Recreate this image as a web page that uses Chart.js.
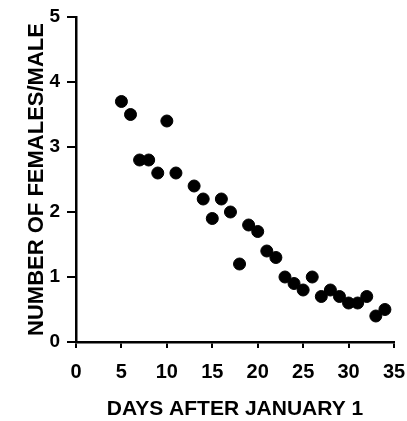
<!DOCTYPE html>
<html>
<head>
<meta charset="utf-8">
<script src="https://cdn.jsdelivr.net/npm/chart.js@4/dist/chart.umd.min.js"></script>
<style>
  html, body { margin: 0; padding: 0; background: #fff; }
  #wrap { width: 407px; height: 421px; }
</style>
</head>
<body>
<div id="wrap"><canvas id="femalesChart" width="407" height="421"></canvas></div>
<script>
const days = [5, 6, 7, 8, 9, 10, 11, 13, 14, 15, 16, 17, 18, 19, 20, 21, 22, 23, 24, 25, 26, 27, 28, 29, 30, 31, 32, 33, 34];
const femalesPerMale = [3.7, 3.5, 2.8, 2.8, 2.6, 3.4, 2.6, 2.4, 2.2, 1.9, 2.2, 2.0, 1.2, 1.8, 1.7, 1.4, 1.3, 1.0, 0.9, 0.8, 1.0, 0.7, 0.8, 0.7, 0.6, 0.6, 0.7, 0.4, 0.5];
const xTicks = [0, 5, 10, 15, 20, 25, 30, 35];
const yTicks = [0, 1, 2, 3, 4, 5];

const points = days.map((d, i) => ({ x: d, y: femalesPerMale[i] }));
const fontFamily = '"Liberation Sans", Arial, sans-serif';

function drawChart() {
    new Chart(document.getElementById('femalesChart').getContext('2d'), {
        type: 'scatter',
        data: {
            datasets: [{
                data: points,
                backgroundColor: '#000',
                borderColor: '#000',
                pointRadius: 6,
                pointHoverRadius: 6
            }]
        },
        options: {
            responsive: false,
            animation: false,
            layout: { padding: { top: 17, right: 13, left: 0, bottom: 0 } },
            plugins: { legend: { display: false }, tooltip: { enabled: false } },
            scales: {
                x: {
                    type: 'linear', min: 0, max: 35,
                    afterBuildTicks: s => { s.ticks = xTicks.map(v => ({ value: v })); },
                    // fixed axis box so the plot area lines up with the original
                    afterFit: s => { s.height = 79; s.paddingLeft = 0; s.paddingRight = 0; },
                    grid: { drawOnChartArea: false, color: '#000', lineWidth: 2, tickLength: 6 },
                    border: { color: '#000', width: 2.5 },
                    ticks: { color: '#000', padding: 12, font: { family: fontFamily, size: 20, weight: 'bold' } },
                    title: {
                        display: true, text: 'DAYS AFTER JANUARY 1', color: '#000',
                        padding: { top: 0, bottom: 0 },
                        font: { family: fontFamily, size: 21, weight: 'bold', lineHeight: 1.1 }
                    }
                },
                y: {
                    type: 'linear', min: 0, max: 5,
                    afterBuildTicks: s => { s.ticks = yTicks.map(v => ({ value: v })); },
                    afterFit: s => { s.width = 76; s.paddingTop = 0; s.paddingBottom = 0; },
                    grid: { drawOnChartArea: false, color: '#000', lineWidth: 2, tickLength: 9 },
                    border: { color: '#000', width: 2.5 },
                    ticks: { color: '#000', padding: 7, font: { family: fontFamily, size: 19, weight: 'bold' } },
                    title: {
                        display: true, text: 'NUMBER OF FEMALES/MALE', color: '#000',
                        padding: { top: 24, bottom: 0 },
                        font: { family: fontFamily, size: 22, weight: 'bold', lineHeight: 1.2 }
                    }
                }
            }
        }
    });
}

if (document.fonts && document.fonts.load) {
    document.fonts.load('bold 20px "Liberation Sans"').then(drawChart, drawChart);
} else {
    drawChart();
}
</script>
</body>
</html>
